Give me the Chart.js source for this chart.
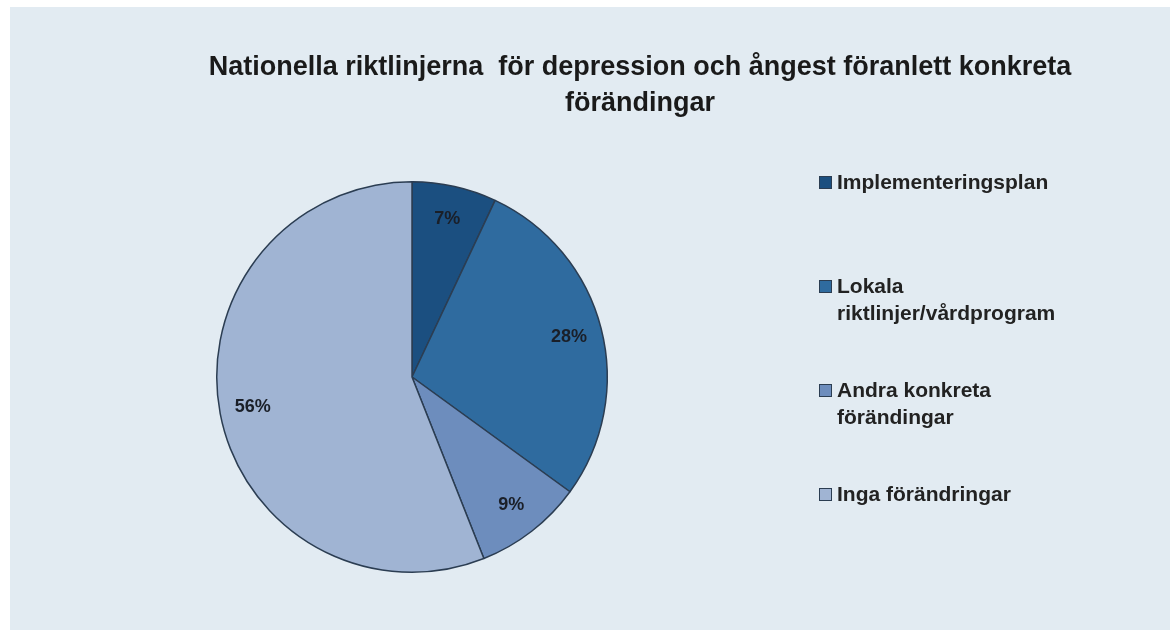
<!DOCTYPE html>
<html>
<head>
<meta charset="utf-8">
<script src="https://cdn.jsdelivr.net/npm/chart.js@4"></script>
<style>
  html,body{margin:0;padding:0;background:#fff;}
  #wrap{position:relative;width:1176px;height:634px;}
  #panel{position:absolute;left:10px;top:7px;width:1160px;height:623px;background:#e2ebf2;}
  #c{position:absolute;left:0;top:0;}
</style>
</head>
<body>
<div id="wrap">
  <div id="panel"></div>
  <canvas id="c" width="1176" height="634"></canvas>
</div>
<script>
// data
const titleLines=['Nationella riktlinjerna  för depression och ångest föranlett konkreta','förändingar'];
const labels=['Implementeringsplan','Lokala riktlinjer/vårdprogram','Andra konkreta förändingar','Inga förändringar'];
const values=[7,28,9,56];
const colors=['#1b4f80','#2f6b9f','#6d8dbd','#a0b4d3'];

const FONT='"Liberation Sans", Arial, sans-serif';

// wraps a label to max width
function wrap(ctx,text,maxW){
  const words=text.split(' ');
  const lines=[];let cur='';
  words.forEach(w=>{
    const t=cur?cur+' '+w:w;
    if(ctx.measureText(t).width>maxW&&cur){lines.push(cur);cur=w;}
    else cur=t;
  });
  if(cur) lines.push(cur);
  return lines;
}

const extras={
  id:'extras',
  afterDatasetsDraw(chart){
    const ctx=chart.ctx;
    const arcs=chart.getDatasetMeta(0).data;
    // percentage labels
    ctx.save();
    ctx.fillStyle='#1a1f28';
    ctx.font='bold 18px '+FONT;
    ctx.textAlign='center';ctx.textBaseline='middle';
    arcs.forEach((a,i)=>{
      const mid=(a.startAngle+a.endAngle)/2;
      const r=a.outerRadius*0.83;
      ctx.fillText(values[i]+'%',a.x+Math.cos(mid)*r,a.y+Math.sin(mid)*r);
    });
    ctx.restore();
  },
  afterDraw(chart){
    const ctx=chart.ctx;
    ctx.save();
    // title
    ctx.fillStyle='#1a1a1a';
    ctx.font='bold 27px '+FONT;
    ctx.textAlign='center';ctx.textBaseline='middle';
    ctx.fillText(titleLines[0],640,68);
    ctx.fillText(titleLines[1],640,104);
    // legend
    ctx.font='bold 21px '+FONT;
    ctx.textAlign='left';
    const y0=183,step=104,lh=27;
    labels.forEach((lb,i)=>{
      const y=y0+i*step;
      ctx.fillStyle=colors[i];
      ctx.fillRect(819,y-7,13,13);
      ctx.strokeStyle='#2b3d52';ctx.lineWidth=1;
      ctx.strokeRect(819.5,y-6.5,12,12);
      ctx.fillStyle='#222';
      wrap(ctx,lb,235).forEach((ln,k)=>ctx.fillText(ln,837,y+k*lh));
    });
    ctx.restore();
  }
};

new Chart(document.getElementById('c'),{
  type:'pie',
  data:{labels:labels,datasets:[{data:values,backgroundColor:colors,borderColor:'#2b3d52',borderWidth:1.5}]},
  options:{
    responsive:false,animation:false,
    layout:{padding:{left:216,top:181,right:568,bottom:61}},
    plugins:{legend:{display:false},title:{display:false},tooltip:{enabled:false}}
  },
  plugins:[extras]
});
</script>
</body>
</html>
